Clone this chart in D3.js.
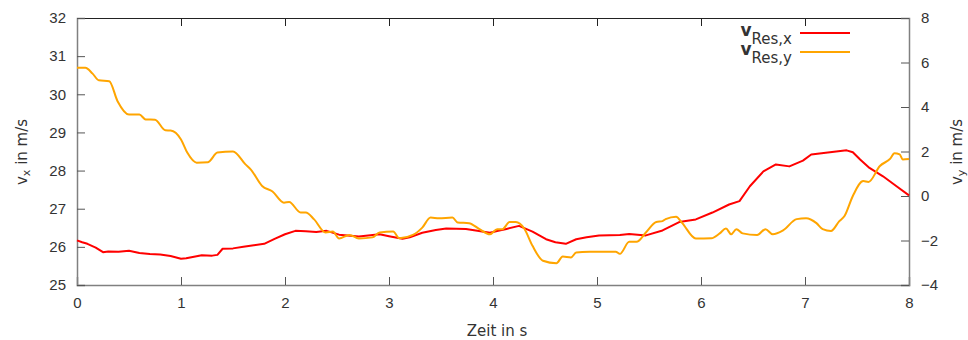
<!DOCTYPE html>
<html>
<head>
<meta charset="utf-8">
<script src="https://cdn.jsdelivr.net/npm/d3@7"></script>
<style>
  html, body { margin: 0; padding: 0; background: #fff; }
  svg { display: block; font-family: "DejaVu Sans", sans-serif; }
</style>
</head>
<body>
<svg id="chart" width="968" height="340"></svg>
<script>
// Resultant velocity components over time
const timeX = [0, 0.05, 0.1, 0.18, 0.25, 0.3, 0.4, 0.5, 0.6, 0.7, 0.8, 0.9, 1.0, 1.05, 1.1, 1.2, 1.3, 1.35, 1.4, 1.5, 1.6, 1.7, 1.8, 1.9, 2.0, 2.1, 2.2, 2.3, 2.4, 2.52, 2.71, 2.91, 3.0, 3.13, 3.2, 3.32, 3.45, 3.55, 3.74, 3.85, 3.97, 4.05, 4.13, 4.25, 4.38, 4.51, 4.6, 4.7, 4.8, 4.9, 5.02, 5.22, 5.31, 5.47, 5.63, 5.79, 5.95, 6.11, 6.27, 6.37, 6.47, 6.6, 6.72, 6.85, 6.98, 7.06, 7.24, 7.4, 7.46, 7.53, 7.62, 7.75, 7.88, 8.0];
const velX = [26.17, 26.12, 26.08, 25.98, 25.86, 25.88, 25.87, 25.9, 25.84, 25.81, 25.8, 25.76, 25.69, 25.7, 25.73, 25.78, 25.77, 25.79, 25.95, 25.96, 26.0, 26.04, 26.08, 26.21, 26.33, 26.42, 26.41, 26.39, 26.42, 26.32, 26.27, 26.33, 26.28, 26.21, 26.25, 26.37, 26.44, 26.48, 26.47, 26.42, 26.37, 26.42, 26.47, 26.55, 26.4, 26.2, 26.12, 26.08, 26.2, 26.25, 26.3, 26.31, 26.34, 26.3, 26.43, 26.65, 26.72, 26.9, 27.11, 27.2, 27.59, 27.98, 28.16, 28.11, 28.26, 28.42, 28.48, 28.53, 28.48, 28.29, 28.07, 27.85, 27.59, 27.35];

const timeY = [0, 0.08, 0.15, 0.21, 0.31, 0.39, 0.5, 0.6, 0.66, 0.75, 0.85, 0.9, 1.0, 1.06, 1.15, 1.26, 1.35, 1.5, 1.62, 1.67, 1.78, 1.88, 1.99, 2.04, 2.15, 2.2, 2.28, 2.39, 2.46, 2.52, 2.62, 2.71, 2.84, 2.91, 3.04, 3.1, 3.23, 3.32, 3.4, 3.48, 3.61, 3.66, 3.77, 3.87, 3.97, 4.04, 4.09, 4.16, 4.22, 4.3, 4.38, 4.48, 4.61, 4.67, 4.75, 4.8, 4.93, 5.18, 5.22, 5.31, 5.38, 5.47, 5.57, 5.63, 5.66, 5.76, 5.82, 5.95, 6.1, 6.18, 6.24, 6.29, 6.34, 6.4, 6.54, 6.62, 6.69, 6.79, 6.92, 7.01, 7.11, 7.17, 7.25, 7.33, 7.38, 7.46, 7.56, 7.61, 7.72, 7.82, 7.86, 7.91, 7.94, 8.0];
const velY = [5.76, 5.76, 5.5, 5.2, 5.16, 4.26, 3.66, 3.66, 3.44, 3.43, 2.95, 2.94, 2.54, 1.95, 1.5, 1.52, 1.95, 2.0, 1.42, 1.2, 0.45, 0.2, -0.3, -0.27, -0.74, -0.74, -1.05, -1.64, -1.6, -1.91, -1.75, -1.91, -1.86, -1.64, -1.6, -1.9, -1.75, -1.42, -0.97, -1.0, -0.97, -1.19, -1.22, -1.49, -1.72, -1.49, -1.49, -1.17, -1.17, -1.46, -2.24, -2.91, -3.02, -2.72, -2.76, -2.54, -2.51, -2.5, -2.6, -2.06, -2.06, -1.64, -1.17, -1.13, -1.04, -0.93, -1.22, -1.91, -1.9, -1.68, -1.46, -1.72, -1.49, -1.68, -1.75, -1.49, -1.72, -1.54, -1.04, -1.0, -1.22, -1.49, -1.57, -1.13, -0.9, 0.0, 0.67, 0.63, 1.35, 1.68, 1.92, 1.87, 1.64, 1.66];

const timeTicks = [0, 1, 2, 3, 4, 5, 6, 7, 8];
const leftTicks = [25, 26, 27, 28, 29, 30, 31, 32];
const rightTicks = [-4, -2, 0, 2, 4, 6, 8];

const seriesNames = ["Res,x", "Res,y"];
const seriesColors = ["#ff0000", "#ffa500"];

const svg = d3.select("#chart");
const m = { left: 77, right: 909, top: 18, bottom: 285 };

const x = d3.scaleLinear().domain([0, 8]).range([m.left, m.right]);
const yL = d3.scaleLinear().domain([25, 32]).range([m.bottom, m.top]);
const yR = d3.scaleLinear().domain([-4, 8]).range([m.bottom, m.top]);

const textColor = "#333";
const axisColor = "#808080";
const tickLen = 8;

// frame: top border dark, the three axes grey
svg.append("line").attr("x1", m.left).attr("x2", m.right).attr("y1", m.top + 0.5).attr("y2", m.top + 0.5)
  .attr("stroke", "#222").attr("stroke-width", 1.2);

// bottom axis (ticks inward, mirrored at top)
const bottomAxis = d3.axisBottom(x).tickValues(timeTicks).tickSize(-tickLen).tickPadding(12)
  .tickFormat(d3.format("d"));
const gB = svg.append("g").attr("transform", `translate(0,${m.bottom})`).call(bottomAxis);
gB.select(".domain").attr("stroke", axisColor).attr("stroke-width", 1.5);
gB.selectAll(".tick line").attr("stroke", "#555");
gB.selectAll(".tick text").attr("fill", textColor).style("font-size", "15px");

const topAxis = d3.axisTop(x).tickValues(timeTicks).tickSize(-tickLen).tickFormat("");
const gT = svg.append("g").attr("transform", `translate(0,${m.top})`).call(topAxis);
gT.select(".domain").remove();
gT.selectAll(".tick line").attr("stroke", "#222");

// left axis (v_x)
const leftAxis = d3.axisLeft(yL).tickValues(leftTicks).tickSize(-tickLen).tickPadding(11)
  .tickFormat(d3.format("d"));
const gL = svg.append("g").attr("transform", `translate(${m.left},0)`).call(leftAxis);
gL.select(".domain").attr("stroke", axisColor).attr("stroke-width", 1.5);
gL.selectAll(".tick line").attr("stroke", "#555");
gL.selectAll(".tick text").attr("fill", textColor).style("font-size", "15px");

// right axis (v_y)
const rightAxis = d3.axisRight(yR).tickValues(rightTicks).tickSize(-tickLen).tickPadding(12)
  .tickFormat(d3.format("d"));
const gR = svg.append("g").attr("transform", `translate(${m.right},0)`).call(rightAxis);
gR.select(".domain").attr("stroke", axisColor).attr("stroke-width", 1.5);
gR.selectAll(".tick line").attr("stroke", "#555");
gR.selectAll(".tick text").attr("fill", textColor).style("font-size", "15px");

svg.selectAll(".domain").attr("fill", "none");

// data lines
const lineX = d3.line().x((d, i) => x(timeX[i])).y(d => yL(d)).curve(d3.curveLinear);
const lineY = d3.line().x((d, i) => x(timeY[i])).y(d => yR(d)).curve(d3.curveMonotoneX);

svg.append("path").datum(velX).attr("d", lineX)
  .attr("fill", "none").attr("stroke", seriesColors[0]).attr("stroke-width", 2).attr("stroke-linejoin", "round");
svg.append("path").datum(velY).attr("d", lineY)
  .attr("fill", "none").attr("stroke", seriesColors[1]).attr("stroke-width", 2).attr("stroke-linejoin", "round");

// axis titles
function axisTitle(tx, ty, sub) {
  const t = svg.append("text")
    .attr("transform", `translate(${tx},${ty}) rotate(-90)`)
    .attr("text-anchor", "middle").attr("fill", textColor).style("font-size", "15px");
  t.append("tspan").text("v");
  t.append("tspan").attr("dy", 3).style("font-size", "11px").text(sub);
  t.append("tspan").attr("dy", -3).text(" in m/s");
}
axisTitle(27, 152, "x");
axisTitle(962, 152, "y");

svg.append("text").attr("x", 497).attr("y", 336).attr("text-anchor", "middle")
  .attr("fill", textColor).style("font-size", "15px").text("Zeit in s");

// legend
seriesNames.forEach((name, i) => {
  const ly = 33 + i * 19;
  const t = svg.append("text").attr("x", 792).attr("y", ly + 3).attr("text-anchor", "end")
    .attr("fill", textColor);
  t.append("tspan").style("font-weight", "bold").style("font-size", "17px").text("v");
  t.append("tspan").attr("dy", 8).style("font-size", "15px").text(name);
  svg.append("line").attr("x1", 800).attr("x2", 850).attr("y1", ly).attr("y2", ly)
    .attr("stroke", seriesColors[i]).attr("stroke-width", 2);
});
</script>
</body>
</html>
